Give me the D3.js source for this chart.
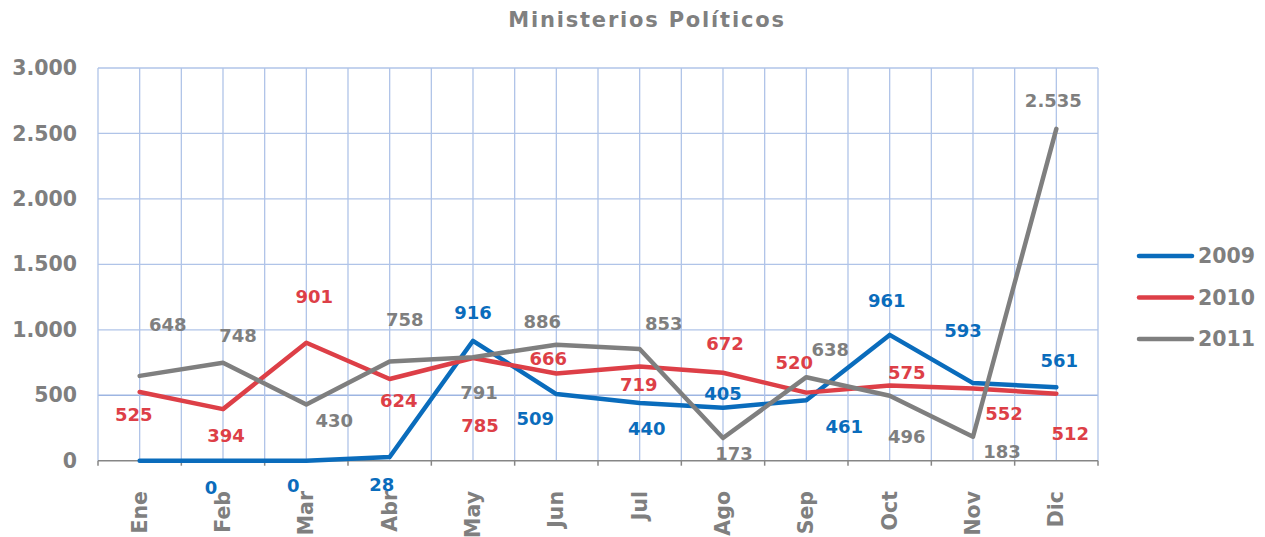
<!DOCTYPE html>
<html>
<head>
<meta charset="utf-8">
<script src="https://cdn.jsdelivr.net/npm/d3@7"></script>
<style>
  body { margin: 0; background: #fff; }
  svg text { font-family: "DejaVu Sans", Verdana, sans-serif; font-weight: bold; }
</style>
</head>
<body>
<div id="vis"></div>
<script>
const title = 'Ministerios Políticos';
const months = ['Ene', 'Feb', 'Mar', 'Abr', 'May', 'Jun', 'Jul', 'Ago', 'Sep', 'Oct', 'Nov', 'Dic'];
const years = ['2009', '2010', '2011'];
const values2009 = [0, 0, 0, 28, 916, 509, 440, 405, 461, 961, 593, 561];
const values2010 = [525, 394, 901, 624, 785, 666, 719, 672, 520, 575, 552, 512];
const values2011 = [648, 748, 430, 758, 791, 886, 853, 173, 638, 496, 183, 2535];
const yTicks = [0, 500, 1000, 1500, 2000, 2500, 3000];

// hand placed label offsets, like the original chart (null = no label)
const labelOffsets = {
  '2009': [null, [-12, 27], [-13, 25], [-8, 27], [0, -28], [-21, 24], [7, 25], [0, -14], [38, 26], [-3, -34], [-10, -53], [3, -27]],
  '2010': [[-6, 23], [3, 26], [8, -46], [9, 21], [7, 68], [-8, -15], [-1, 18], [2, -29], [-12, -30], [17, -13], [31, 25], [14, 40]],
  '2011': [[28, -51], [15, -27], [28, 16], [15, -42], [6, 35], [-14, -23], [24, -26], [11, 15], [24, -28], [17, 41], [29, 15], [-3, -28]]
};

const colors = { '2009': '#0a6cbc', '2010': '#dd3f47', '2011': '#7f7f7f' };
const series = years.map((y, i) => ({ name: y, values: [values2009, values2010, values2011][i] }));

const width = 1265, height = 537;
const plot = { left: 98, right: 1098, top: 68, bottom: 460.7 };

const svg = d3.select('#vis').append('svg')
  .attr('width', width)
  .attr('height', height);

const x = d3.scaleBand().domain(months).range([plot.left, plot.right]);
const y = d3.scaleLinear().domain([0, 3000]).range([plot.bottom, plot.top]);
const cx = (m) => x(m) + x.bandwidth() / 2;

svg.append('text')
  .attr('x', 647)
  .attr('y', 27)
  .attr('text-anchor', 'middle')
  .attr('fill', '#808080')
  .style('font-size', '21px')
  .style('letter-spacing', '1.8px')
  .text(title);

// grid
const grid = svg.append('g').attr('stroke', '#b0c4e8').attr('stroke-width', 1.3);
yTicks.filter(d => d > 0).forEach(d => {
  grid.append('line')
    .attr('x1', plot.left).attr('x2', plot.right)
    .attr('y1', y(d)).attr('y2', y(d));
});
const vLines = [];
months.forEach(m => { vLines.push(x(m)); vLines.push(cx(m)); });
vLines.push(plot.right);
vLines.forEach(v => {
  grid.append('line')
    .attr('x1', v).attr('x2', v)
    .attr('y1', plot.top).attr('y2', plot.bottom);
});
grid.select('line').attr('stroke', '#9db5e2');

// y axis labels
const yAxis = d3.axisLeft(y).tickValues(yTicks).tickSize(0).tickPadding(21)
  .tickFormat(d => d3.format(',')(d).replace(/,/g, '.'));
const gy = svg.append('g').attr('transform', `translate(${plot.left},0)`).call(yAxis);
gy.select('.domain').remove();
gy.selectAll('text').attr('fill', '#7f7f7f').style('font-size', '20.5px')
  .style('font-family', '"DejaVu Sans", sans-serif').style('font-weight', 'bold');

// x axis
const gx = svg.append('g').attr('transform', `translate(0,${plot.bottom})`);
gx.append('line')
  .attr('x1', plot.left).attr('x2', plot.right)
  .attr('stroke', '#868686').attr('stroke-width', 1.5);
months.concat(['end']).forEach((m, i) => {
  const xv = m === 'end' ? plot.right : x(m);
  gx.append('line')
    .attr('x1', xv).attr('x2', xv).attr('y1', 0).attr('y2', 5)
    .attr('stroke', '#868686').attr('stroke-width', 1.5);
});
gx.selectAll('.cat')
  .data(months)
  .enter().append('text')
    .attr('class', 'cat')
    .attr('transform', d => `translate(${cx(d) + 7},${491 - plot.bottom}) rotate(-90)`)
    .attr('text-anchor', 'end')
    .attr('fill', '#7f7f7f')
    .style('font-size', '20.5px')
    .text(d => d);

// lines
const line = d3.line()
  .x((d, i) => cx(months[i]))
  .y(d => y(d));

svg.selectAll('.series')
  .data(series)
  .enter().append('path')
    .attr('class', 'series')
    .attr('d', d => line(d.values))
    .attr('fill', 'none')
    .attr('stroke', d => colors[d.name])
    .attr('stroke-width', 4.5)
    .attr('stroke-linejoin', 'round')
    .attr('stroke-linecap', 'round');

// data labels
series.forEach(s => {
  s.values.forEach((v, i) => {
    const off = labelOffsets[s.name][i];
    if (!off) return;
    svg.append('text')
      .attr('x', cx(months[i]) + off[0])
      .attr('y', y(v) + off[1])
      .attr('text-anchor', 'middle')
      .attr('dominant-baseline', 'central')
      .attr('fill', colors[s.name])
      .style('font-size', '18px')
      .text(d3.format(',')(v).replace(/,/g, '.'));
  });
});

// legend
const legend = svg.append('g');
years.forEach((yr, i) => {
  const ly = 256 + i * 41.5;
  legend.append('line')
    .attr('x1', 1139).attr('x2', 1192)
    .attr('y1', ly).attr('y2', ly)
    .attr('stroke', colors[yr])
    .attr('stroke-width', 4.5)
    .attr('stroke-linecap', 'round');
  legend.append('text')
    .attr('x', 1198)
    .attr('y', ly)
    .attr('dominant-baseline', 'central')
    .attr('fill', '#7f7f7f')
    .style('font-size', '20.5px')
    .text(yr);
});
</script>
</body>
</html>
